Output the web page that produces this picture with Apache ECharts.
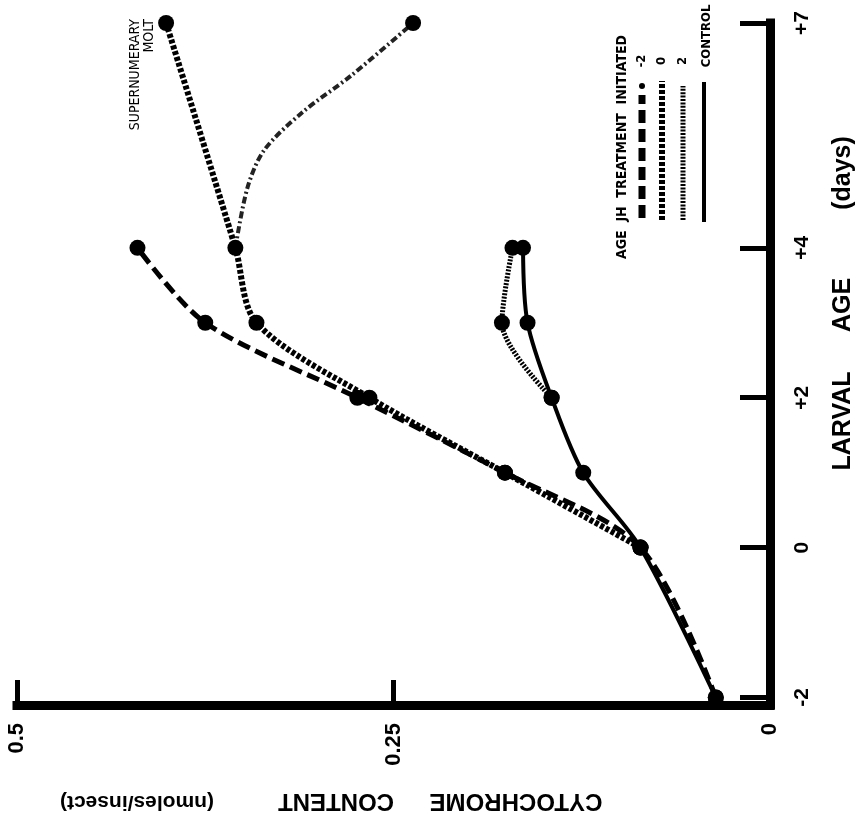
<!DOCTYPE html>
<html>
<head>
<meta charset="utf-8">
<script src="https://cdn.jsdelivr.net/npm/echarts@6/dist/echarts.min.js"></script>
<style>html,body{margin:0;padding:0;background:#fff}#c{width:862px;height:820px}</style>
</head>
<body>
<div id="c"></div>
<script>
// Larval age (days) and cytochrome content (nmoles/insect)
const agesControl = [-2, 0, 1, 2, 3, 4];
const control     = [0.036, 0.086, 0.124, 0.145, 0.161, 0.164];
const agesM2      = [-2, 0, 1, 2, 3, 4];
const treatM2     = [0.036, 0.086, 0.176, 0.274, 0.375, 0.42];
const ages0       = [0, 1, 2, 3, 4, 7];
const treat0      = [0.086, 0.176, 0.266, 0.341, 0.355, 0.401];
const ages0b      = [4, 4.8, 5.3, 5.8, 6.3, 7];
const treat0b     = [0.355, 0.347, 0.336, 0.311, 0.278, 0.237];
const ages2       = [2, 3, 4];
const treat2      = [0.145, 0.178, 0.171];
const ageTicks    = [-2, 0, 2, 4, 7];

const pairs = (ages, vals) => ages.map((a, i) => [vals[i], a]);
const NUM_FONT = "'Liberation Sans', Arial, sans-serif";
const NARROW = "'Liberation Sans Narrow', 'DejaVu Sans Condensed', 'Liberation Sans', sans-serif";

const chart = echarts.init(document.getElementById('c'), null, {renderer: 'canvas'});

const baseSeries = {
  type: 'line', smooth: 0.3, symbol: 'circle', symbolSize: 16,
  itemStyle: {color: '#000'}, z: 3
};

const option = {
  animation: false,
  backgroundColor: '#fff',
  grid: {left: 17, right: 92, top: 23, bottom: 115, containLabel: false},
  xAxis: {
    type: 'value', inverse: true, min: 0, max: 0.5, interval: 0.25,
    position: 'bottom',
    splitLine: {show: false},
    axisLine: {onZero: false, lineStyle: {color: '#000', width: 9, cap: 'square'}},
    axisTick: {inside: true, length: 25, lineStyle: {color: '#000', width: 5}},
    axisLabel: {rotate: 90, margin: 18, color: '#000', fontSize: 22, fontWeight: 'bold', fontFamily: NUM_FONT,
      formatter: v => String(v)}
  },
  yAxis: {
    type: 'value', min: -2.1, max: 7, position: 'right',
    splitLine: {show: false},
    axisLine: {onZero: false, lineStyle: {color: '#000', width: 9, cap: 'square'}},
    axisTick: {inside: true, length: 30, customValues: ageTicks, lineStyle: {color: '#000', width: 5}},
    axisLabel: {rotate: 90, margin: 22, customValues: ageTicks, color: '#000', fontSize: 21, fontWeight: 'bold', fontFamily: NUM_FONT,
      formatter: v => v > 0 ? '+' + v : String(v)}
  },
  series: [
    Object.assign({}, baseSeries, {
      name: 'CONTROL', data: pairs(agesControl, control),
      lineStyle: {color: '#000', width: 4}
    }),
    Object.assign({}, baseSeries, {
      name: '-2', data: pairs(agesM2, treatM2),
      lineStyle: {color: '#000', width: 5, type: [13, 6]}
    }),
    Object.assign({}, baseSeries, {
      name: '0', data: pairs(ages0, treat0),
      lineStyle: {color: '#000', width: 6, type: [4, 2]}
    }),
    Object.assign({}, baseSeries, {
      name: '0 (no molt)', data: pairs(ages0b, treat0b),
      symbol: (v, p) => (p.dataIndex === ages0b.length - 1 ? 'circle' : 'none'),
      lineStyle: {color: '#222', width: 4, type: [7, 3, 2, 3]}
    }),
    Object.assign({}, baseSeries, {
      name: '2', data: pairs(ages2, treat2),
      lineStyle: {color: '#000', width: 5, type: [2, 1.4]}
    })
  ],
  graphic: [
    {type: 'text', x: 516, y: 801, rotation: Math.PI, style: {text: 'CYTOCHROME', fontSize: 24, fontWeight: 'bold', fontFamily: NUM_FONT, fill: '#000', align: 'center', verticalAlign: 'middle'}},
    {type: 'text', x: 336, y: 801, rotation: Math.PI, style: {text: 'CONTENT', fontSize: 24, fontWeight: 'bold', fontFamily: NUM_FONT, fill: '#000', align: 'center', verticalAlign: 'middle'}},
    {type: 'text', x: 137, y: 802, rotation: Math.PI, style: {text: '(nmoles/insect)', fontSize: 21, fontWeight: 'bold', fontFamily: NUM_FONT, fill: '#000', align: 'center', verticalAlign: 'middle'}},
    {type: 'text', x: 843, y: 421, rotation: Math.PI / 2, style: {text: 'LARVAL', fontSize: 25, fontWeight: 'bold', fontFamily: NUM_FONT, fill: '#000', align: 'center', verticalAlign: 'middle'}},
    {type: 'text', x: 843, y: 305, rotation: Math.PI / 2, style: {text: 'AGE', fontSize: 25, fontWeight: 'bold', fontFamily: NUM_FONT, fill: '#000', align: 'center', verticalAlign: 'middle'}},
    {type: 'text', x: 843, y: 173, rotation: Math.PI / 2, style: {text: '(days)', fontSize: 25, fontWeight: 'bold', fontFamily: NUM_FONT, fill: '#000', align: 'center', verticalAlign: 'middle'}},
    {type: 'text', x: 135, y: 19, rotation: Math.PI / 2, style: {text: 'SUPERNUMERARY', fontSize: 14, fontFamily: NARROW, fill: '#000', align: 'right', verticalAlign: 'middle'}},
    {type: 'text', x: 149, y: 19, rotation: Math.PI / 2, style: {text: 'MOLT', fontSize: 14, fontFamily: NARROW, fill: '#000', align: 'right', verticalAlign: 'middle'}},
    {type: 'text', x: 622, y: 147, rotation: Math.PI / 2, style: {text: 'AGE  JH  TREATMENT  INITIATED', fontSize: 14, fontWeight: 'bold', fontFamily: NARROW, fill: '#000', align: 'center', verticalAlign: 'middle'}},
    {type: 'line', shape: {x1: 642, y1: 218, x2: 642, y2: 95}, style: {stroke: '#000', lineWidth: 7, lineDash: [13, 6]}},
    {type: 'circle', shape: {cx: 642, cy: 86, r: 3}, style: {fill: '#000'}},
    {type: 'text', x: 642, y: 61, rotation: Math.PI / 2, style: {text: '-2', fontSize: 13, fontWeight: 'bold', fontFamily: NARROW, fill: '#000', align: 'center', verticalAlign: 'middle'}},
    {type: 'line', shape: {x1: 662, y1: 220, x2: 662, y2: 81}, style: {stroke: '#000', lineWidth: 6, lineDash: [4, 2]}},
    {type: 'text', x: 662, y: 61, rotation: Math.PI / 2, style: {text: '0', fontSize: 13, fontWeight: 'bold', fontFamily: NARROW, fill: '#000', align: 'center', verticalAlign: 'middle'}},
    {type: 'line', shape: {x1: 683, y1: 220, x2: 683, y2: 86}, style: {stroke: '#000', lineWidth: 5, lineDash: [2, 1.4]}},
    {type: 'text', x: 683, y: 61, rotation: Math.PI / 2, style: {text: '2', fontSize: 13, fontWeight: 'bold', fontFamily: NARROW, fill: '#000', align: 'center', verticalAlign: 'middle'}},
    {type: 'line', shape: {x1: 704, y1: 222, x2: 704, y2: 82}, style: {stroke: '#000', lineWidth: 4}},
    {type: 'text', x: 707, y: 36, rotation: Math.PI / 2, style: {text: 'CONTROL', fontSize: 13, fontWeight: 'bold', fontFamily: NARROW, fill: '#000', align: 'center', verticalAlign: 'middle'}}
  ]
};
chart.setOption(option);
</script>
</body>
</html>
